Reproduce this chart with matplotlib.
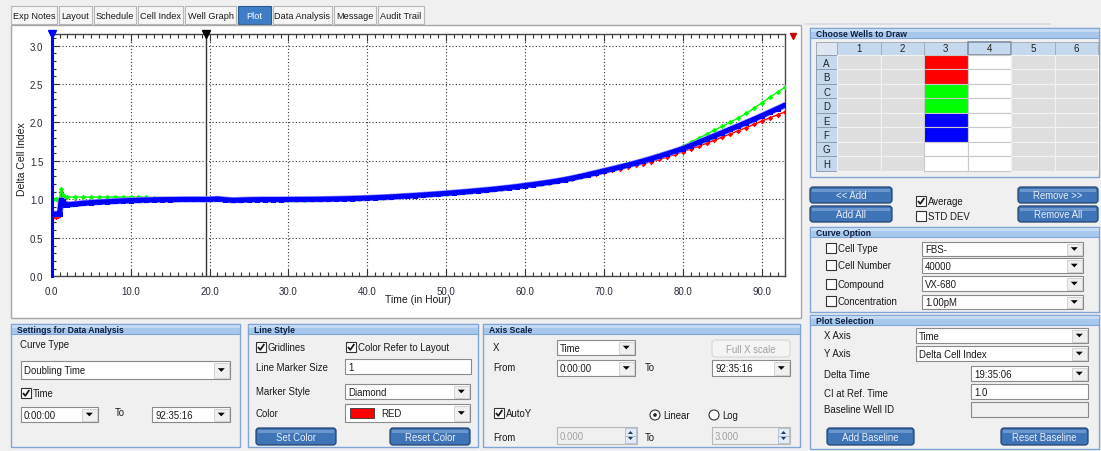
import matplotlib
matplotlib.use('Agg')
import matplotlib.pyplot as plt
from matplotlib.patches import Rectangle, FancyBboxPatch, Polygon, Circle
from matplotlib.ticker import MultipleLocator, FormatStrFormatter

plt.rcParams['font.family'] = ['Liberation Sans', 'DejaVu Sans']

W, H = 1101, 452

# ---- data ----
hours = [0.2, 0.5, 0.8, 1.0, 1.2, 1.4, 1.7,
         2, 3, 4, 5, 6, 7, 8, 9, 10, 11,
         12, 13, 14, 15, 16, 17, 18, 19, 20, 21,
         22, 23, 24, 25, 26, 27, 28, 29, 30, 31,
         32, 33, 34, 35, 36, 37, 38, 39, 40, 41,
         42, 43, 44, 45, 46, 47, 48, 49, 50, 51,
         52, 53, 54, 55, 56, 57, 58, 59, 60, 61,
         62, 63, 64, 65, 66, 67, 68, 69, 70, 71,
         72, 73, 74, 75, 76, 77, 78, 79, 80, 81,
         82, 83, 84, 85, 86, 87, 88, 89, 90, 91,
         92, 93]

blue_ci = [0.81, 0.81, 0.81, 0.81, 0.99, 0.98, 0.93,
           0.930, 0.940, 0.950, 0.958, 0.965, 0.970, 0.976, 0.981, 0.985, 0.989,
           0.992, 0.995, 0.997, 0.998, 0.999, 1.000, 1.000, 1.000, 1.000, 1.006,
           0.996, 0.988, 0.992, 0.995, 0.997, 0.998, 0.998, 0.998, 0.999, 1.000,
           1.000, 1.001, 1.002, 1.004, 1.006, 1.008, 1.011, 1.014, 1.018, 1.022,
           1.027, 1.032, 1.038, 1.044, 1.050, 1.057, 1.064, 1.071, 1.079, 1.087,
           1.095, 1.104, 1.113, 1.122, 1.132, 1.143, 1.154, 1.166, 1.180, 1.193,
           1.207, 1.222, 1.238, 1.256, 1.276, 1.298, 1.322, 1.346, 1.370, 1.394,
           1.419, 1.445, 1.472, 1.500, 1.530, 1.561, 1.593, 1.626, 1.660, 1.700,
           1.742, 1.784, 1.826, 1.868, 1.911, 1.954, 1.997, 2.041, 2.087, 2.133,
           2.180, 2.228]

red_ci = [0.77, 0.77, 0.78, 0.80, 1.09, 1.04, 0.96,
          0.958, 0.962, 0.966, 0.970, 0.974, 0.978, 0.983, 0.988, 0.992, 0.995,
          0.998, 1.000, 1.000, 1.000, 1.000, 1.000, 1.000, 1.000, 1.000, 1.002,
          0.998, 0.994, 0.995, 0.996, 0.997, 0.997, 0.998, 0.998, 0.999, 0.999,
          1.000, 1.001, 1.002, 1.003, 1.005, 1.007, 1.010, 1.013, 1.017, 1.021,
          1.026, 1.031, 1.037, 1.043, 1.049, 1.056, 1.063, 1.070, 1.078, 1.086,
          1.094, 1.103, 1.112, 1.121, 1.131, 1.142, 1.153, 1.165, 1.178, 1.191,
          1.205, 1.219, 1.234, 1.251, 1.270, 1.291, 1.313, 1.336, 1.358, 1.379,
          1.400, 1.420, 1.442, 1.465, 1.490, 1.519, 1.550, 1.584, 1.620, 1.655,
          1.690, 1.729, 1.769, 1.810, 1.851, 1.891, 1.931, 1.974, 2.018, 2.060,
          2.100, 2.140]

green_ci = [1.00, 1.00, 0.99, 1.02, 1.13, 1.06, 1.03,
            1.030, 1.031, 1.031, 1.030, 1.031, 1.031, 1.030, 1.030, 1.031, 1.030,
            1.028, 1.012, 1.004, 1.001, 1.000, 1.000, 1.000, 1.000, 1.000, 1.000,
            0.997, 0.994, 0.993, 0.994, 0.995, 0.995, 0.996, 0.996, 0.997, 0.997,
            0.998, 0.999, 1.000, 1.001, 1.003, 1.005, 1.008, 1.011, 1.015, 1.019,
            1.024, 1.029, 1.035, 1.041, 1.047, 1.054, 1.061, 1.068, 1.076, 1.084,
            1.092, 1.101, 1.110, 1.119, 1.129, 1.140, 1.151, 1.163, 1.177, 1.190,
            1.204, 1.219, 1.235, 1.253, 1.273, 1.295, 1.319, 1.343, 1.368, 1.393,
            1.419, 1.446, 1.474, 1.503, 1.534, 1.567, 1.602, 1.645, 1.695, 1.745,
            1.795, 1.847, 1.899, 1.950, 2.002, 2.058, 2.117, 2.185, 2.255, 2.325,
            2.395, 2.462]

delta_time = 19.585   # 19:35:06
x_end = 92.94

tab_names = ["Exp Notes", "Layout", "Schedule", "Cell Index", "Well Graph",
             "Plot", "Data Analysis", "Message", "Audit Trail"]
tab_edges = [10, 58, 93, 137, 184, 237, 272, 333, 377, 425]

well_rows = ["A", "B", "C", "D", "E", "F", "G", "H"]
well_cols = ["1", "2", "3", "4", "5", "6"]
col3_colors = ["#ff0000", "#ff0000", "#00ff00", "#00ff00",
               "#0000ff", "#0000ff", "white", "white"]

# ---- figure + pixel overlay ----
fig = plt.figure(figsize=(W / 100, H / 100), dpi=100)
fig.patch.set_facecolor('#f0f0f0')
ui = fig.add_axes([0, 0, 1, 1])
ui.set_xlim(0, W)
ui.set_ylim(H, 0)
ui.axis('off')

FS = 6.9


def box(x0, y0, x1, y1, fc='white', ec='#a0a0a0', lw=0.8, z=1):
    ui.add_patch(Rectangle((x0, y0), x1 - x0, y1 - y0, facecolor=fc,
                           edgecolor=ec, linewidth=lw, zorder=z))


def label(x, y, s, size=FS, color='#1a1a1a', z=5, **kw):
    ui.text(x, y, s, fontsize=size, color=color, va='center', zorder=z, **kw)


def arrow(cx, cy, fc='black'):
    ui.add_patch(Polygon([(cx - 3.5, cy - 1.8), (cx + 3.5, cy - 1.8), (cx, cy + 1.8)],
                         closed=True, fc=fc, ec='none', zorder=4))


def dropdown(x0, y0, x1, y1, s, fc='white'):
    box(x0, y0, x1, y1, fc=fc, ec='#8a8a8a', z=2)
    box(x1 - 16, y0 + 1.5, x1 - 1.5, y1 - 1.5, fc='#f0f0f0', ec='#c4c4c4', lw=0.5, z=3)
    arrow(x1 - 8.7, (y0 + y1) / 2)
    label(x0 + 3, (y0 + y1) / 2 + 0.5, s)


def textbox(x0, y0, x1, y1, s, fc='white'):
    box(x0, y0, x1, y1, fc=fc, ec='#8a8a8a', z=2)
    label(x0 + 3, (y0 + y1) / 2 + 0.5, s)


def spinner(x0, y0, x1, y1, s):
    box(x0, y0, x1, y1, fc='#f0f0f0', ec='#b8b8b8', z=2)
    ym = (y0 + y1) / 2
    box(x1 - 12, y0 + 1, x1 - 1, ym, fc='#e4ebf4', ec='#9fb4cf', lw=0.5, z=3)
    box(x1 - 12, ym, x1 - 1, y1 - 1, fc='#e4ebf4', ec='#9fb4cf', lw=0.5, z=3)
    cx = x1 - 6.5
    ui.add_patch(Polygon([(cx - 2.5, ym - 1.5), (cx + 2.5, ym - 1.5), (cx, ym - 4.5)],
                         fc='#1a3a6a', ec='none', zorder=4))
    ui.add_patch(Polygon([(cx - 2.5, ym + 1.5), (cx + 2.5, ym + 1.5), (cx, ym + 4.5)],
                         fc='#1a3a6a', ec='none', zorder=4))
    label(x0 + 3, ym + 0.5, s, color='#a0a0a0')


def button(x0, y0, x1, y1, s):
    ui.add_patch(FancyBboxPatch((x0, y0), x1 - x0, y1 - y0,
                                boxstyle='round,pad=0,rounding_size=3',
                                fc='#3f74b6', ec='#23446f', lw=0.9, zorder=2))
    ui.add_patch(Rectangle((x0 + 2, y0 + 1.5), x1 - x0 - 4, 3, fc='#6b97cc',
                           ec='none', zorder=3))
    label((x0 + x1) / 2, (y0 + y1) / 2 + 0.5, s, color='#e8eef7', ha='center')


def checkbox(x, y, checked, s=None):
    box(x, y - 5, x + 10, y + 5, fc='white', ec='#333333', lw=0.8, z=3)
    if checked:
        ui.plot([x + 2, x + 4.3, x + 8.3], [y, y + 2.8, y - 3], color='#1a1a1a',
                lw=1.3, zorder=4, solid_capstyle='butt')
    if s:
        label(x + 12, y + 0.5, s)


def radio(x, y, on, s):
    ui.add_patch(Circle((x, y), 5, fc='white', ec='#333333', lw=0.8, zorder=3))
    if on:
        ui.add_patch(Circle((x, y), 1.8, fc='#222222', ec='none', zorder=4))
    label(x + 8, y + 0.5, s)


def panel(x0, y0, x1, y1, title):
    box(x0, y0, x1, y1, fc='#f0f0f0', ec='#7fa6d6', lw=1.0, z=1)
    box(x0, y0, x1, y0 + 10, fc='#a7c7ec', ec='#7fa6d6', lw=0.8, z=1.5)
    ui.add_patch(Rectangle((x0 + 0.5, y0 + 0.5), x1 - x0 - 1, 3, fc='#c5dbf4',
                           ec='none', zorder=1.6))
    label(x0 + 6, y0 + 5.5, title, size=6.2, weight='bold', color='#0f1f3f')


# ---- tab bar ----
for i, name in enumerate(tab_names):
    x0, x1 = tab_edges[i] + 1, tab_edges[i + 1] - 1
    sel = name == "Plot"
    box(x0, 7, x1, 25, fc='#3f7dc6' if sel else '#f6f6f6',
        ec='#2a5a94' if sel else '#b8b8b8', lw=0.8)
    label((x0 + x1) / 2, 16.5, name, size=6.6, color='white' if sel else '#1a1a1a',
          ha='center')

# ---- chart panel ----
box(11, 26, 801, 319, fc='white', ec='#a8a8a8', lw=1.0)
label(22, 159, 'Delta Cell Index', rotation=90, ha='center', size=7.5)
label(418, 300, 'Time (in Hour)', ha='center', size=7.5)

ax = fig.add_axes([51.7 / W, 1 - 277.3 / H, (785 - 51.7) / W, (277.3 - 35) / H])
ax.set_zorder(3)
ax.set_facecolor('white')
ax.set_xlim(0, x_end)
ax.set_ylim(0, 3.15)
ax.xaxis.set_major_locator(MultipleLocator(10))
ax.xaxis.set_minor_locator(MultipleLocator(1))
ax.yaxis.set_major_locator(MultipleLocator(0.5))
ax.yaxis.set_minor_locator(MultipleLocator(0.1))
ax.xaxis.set_major_formatter(FormatStrFormatter('%.1f'))
ax.yaxis.set_major_formatter(FormatStrFormatter('%.1f'))
ax.tick_params(which='both', direction='in', top=True, right=False,
               labelsize=7, labelcolor='#2a2a3a', color='#333333')
ax.tick_params(which='major', length=5, width=0.8)
ax.tick_params(which='minor', length=3, width=0.8)
ax.tick_params(axis='x', pad=7)
ax.tick_params(axis='y', pad=6)
ax.grid(True, which='major', linestyle=(0, (1, 2)), color='#333333', lw=0.8)
for s in ax.spines.values():
    s.set_color('#444444')
    s.set_linewidth(1.0)

ax.plot(hours, red_ci, color='#ff0000', lw=1.0, marker='D', ms=2.8, mew=0, zorder=3)
ax.plot(hours, green_ci, color='#00ff00', lw=1.0, marker='D', ms=2.8, mew=0, zorder=3)
ax.plot(hours, blue_ci, color='#9090ff', lw=4.6, zorder=4, solid_capstyle='butt')
ax.plot(hours, blue_ci, color='#0000ff', lw=3.6, marker='s', ms=3.6, mew=0, zorder=5)

ax.axvline(0, color='#0000ff', lw=2.2, zorder=6, clip_on=False)
ax.axvline(delta_time, color='#333333', lw=1.0, zorder=2)
ax.plot([0], [3.15], marker='v', color='#0000ff', ms=6, clip_on=False, zorder=7)
ax.plot([delta_time], [3.15], marker='v', color='black', ms=6, clip_on=False, zorder=7)
ax.plot([x_end + 1.0], [3.13], marker='v', color='#cc0000', ms=4, clip_on=False, zorder=7)

# ---- right side: wells ----
ui.plot([805, 1050], [25, 25], color='#d4dbe4', lw=1.2, zorder=1)
panel(810, 29, 1099, 178, 'Choose Wells to Draw')
gx0, gw, gy0, gh = 837, 43.5, 56, 14.45
box(816, 42.5, gx0, gy0, fc='#dde6f1', ec='#a0a0a0', lw=0.6, z=2)
for j, c in enumerate(well_cols):
    x0 = gx0 + j * gw
    box(x0, 42.5, x0 + gw, gy0, fc='#c4d8ee', ec='#7d8ea3' if c == '4' else '#a0a8b4',
        lw=1.2 if c == '4' else 0.6, z=2)
    label(x0 + gw / 2, 49.5, c, size=7, ha='center', color='#222222')
for i, r in enumerate(well_rows):
    y0 = gy0 + i * gh
    box(816, y0, gx0, y0 + gh, fc='#c4d8ee', ec='#8a96a6', lw=0.6, z=2)
    label(826.5, y0 + gh / 2 + 0.5, r, size=7, ha='center', color='#222222')
    for j, c in enumerate(well_cols):
        x0 = gx0 + j * gw
        if c == '3':
            fc = col3_colors[i]
        elif c == '4':
            fc = 'white'
        else:
            fc = '#dedede'
        box(x0, y0, x0 + gw, y0 + gh, fc=fc, ec='#c8c8c8' if fc != '#dedede' else '#f2f2f2',
            lw=0.8, z=2)

button(810, 188, 892, 204, '<< Add')
button(810, 207, 892, 223, 'Add All')
button(1018, 188, 1098, 204, 'Remove >>')
button(1018, 207, 1098, 223, 'Remove All')
checkbox(916, 202, True, 'Average')
checkbox(916, 217, False, 'STD DEV')

panel(810, 228, 1099, 313, 'Curve Option')
curve_opts = [('Cell Type', 'FBS-', 249, 243, 257), ('Cell Number', '40000', 266, 259, 274),
              ('Compound', 'VX-680', 285, 277, 292), ('Concentration', '1.00pM', 302, 296, 310)]
for name, val, yl, y0, y1 in curve_opts:
    checkbox(826, yl, False, name)
    dropdown(922, y0, 1083, y1, val)

panel(810, 316, 1099, 450, 'Plot Selection')
label(824, 336, 'X Axis')
dropdown(916, 329, 1088, 344, 'Time')
label(824, 354, 'Y Axis')
dropdown(916, 347, 1088, 362, 'Delta Cell Index')
label(824, 375, 'Delta Time')
dropdown(971, 367, 1088, 382, '19:35:06')
label(824, 394, 'CI at Ref. Time')
textbox(971, 385, 1088, 400, '1.0')
label(824, 410, 'Baseline Well ID')
textbox(971, 403, 1088, 418, '', fc='#f0f0f0')
button(827, 429, 914, 446, 'Add Baseline')
button(1001, 429, 1088, 446, 'Reset Baseline')

# ---- bottom panels ----
panel(11, 325, 240, 448, 'Settings for Data Analysis')
label(20, 345, 'Curve Type')
dropdown(21, 362, 230, 380, 'Doubling Time')
checkbox(21, 394, True, 'Time')
dropdown(21, 408, 98, 423, '0:00:00')
label(115, 413, 'To')
dropdown(152, 408, 230, 423, '92:35:16')

panel(248, 325, 478, 448, 'Line Style')
checkbox(256, 348, True, 'Gridlines')
checkbox(346, 348, True, 'Color Refer to Layout')
label(256, 368, 'Line Marker Size')
textbox(345, 360, 471, 375, '1')
label(256, 392, 'Marker Style')
dropdown(345, 385, 470, 400, 'Diamond')
label(256, 414, 'Color')
dropdown(345, 405, 470, 423, '')
box(350, 409, 374, 419, fc='#ff0000', ec='#333333', lw=0.6, z=4)
label(381, 414.5, 'RED')
button(256, 429, 336, 446, 'Set Color')
button(390, 429, 470, 446, 'Reset Color')

panel(483, 325, 800, 448, 'Axis Scale')
label(493, 348, 'X')
dropdown(557, 341, 635, 356, 'Time')
ui.add_patch(FancyBboxPatch((712, 341), 78, 17, boxstyle='round,pad=0,rounding_size=3',
                            fc='#f4f4f4', ec='#d6d6d6', lw=0.8, zorder=2))
label(751, 350, 'Full X scale', ha='center', color='#a0a0a0')
label(493, 368, 'From')
dropdown(557, 361, 635, 377, '0:00:00')
label(645, 368, 'To')
dropdown(712, 361, 790, 377, '92:35:16')
checkbox(494, 414, True, 'AutoY')
radio(655, 416, True, 'Linear')
radio(714, 416, False, 'Log')
label(493, 438, 'From')
spinner(557, 428, 637, 445, '0.000')
label(645, 438, 'To')
spinner(712, 428, 790, 445, '3.000')

fig.savefig('out.png', dpi=100, facecolor=fig.get_facecolor())
